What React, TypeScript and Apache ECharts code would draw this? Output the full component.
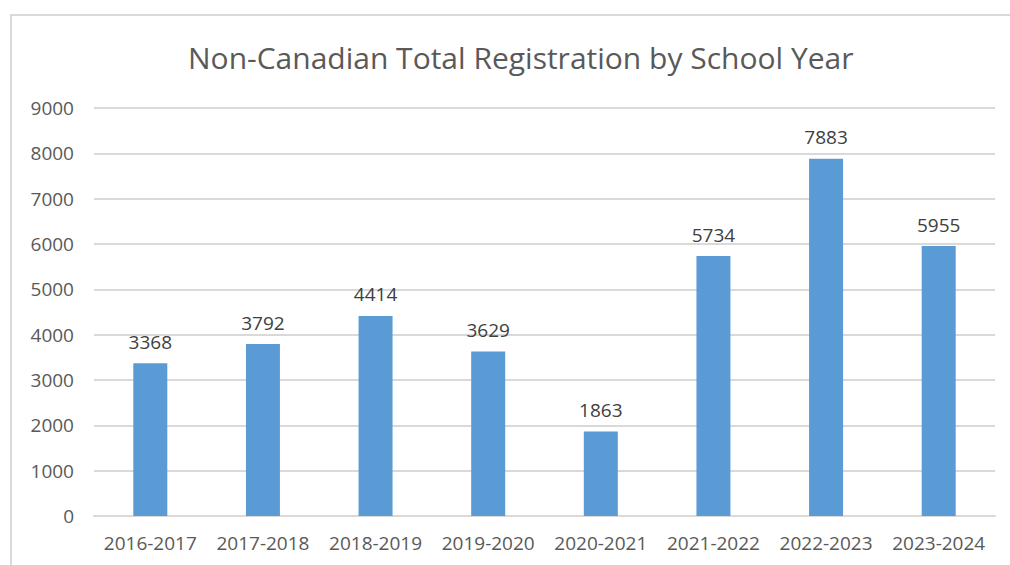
import React, { useEffect, useRef } from "react";
import * as echarts from "echarts";

const categories = ["2016-2017", "2017-2018", "2018-2019", "2019-2020", "2020-2021", "2021-2022", "2022-2023", "2023-2024"];
const registrations = [3368, 3792, 4414, 3629, 1863, 5734, 7883, 5955];
const titleText = "Non-Canadian Total Registration by School Year";

export default function App() {
  const ref = useRef<HTMLDivElement>(null);
  useEffect(() => {
    const chart = echarts.init(ref.current!, null, { renderer: "svg" });
    chart.setOption({
      animation: false,
      backgroundColor: "#ffffff",
      textStyle: { fontFamily: "Open Sans" },
      title: {
        text: titleText,
        left: 183,
        top: 37,
        textStyle: { fontSize: 30, fontWeight: "normal", color: "#595959", fontFamily: "Open Sans" },
      },
      graphic: [
        {
          type: "rect",
          shape: { x: 11, y: 15, width: 1100, height: 700 },
          style: { fill: "none", stroke: "#d9d9d9", lineWidth: 2 },
          silent: true,
        },
      ],
      grid: { left: 94, right: 15, top: 108, bottom: 49, containLabel: false },
      xAxis: {
        type: "category",
        data: categories,
        axisLine: { lineStyle: { color: "#d9d9d9", width: 2 } },
        axisTick: { show: false },
        axisLabel: { interval: 0, hideOverlap: false, color: "#595959", fontSize: 19, margin: 17, fontFamily: "Open Sans" },
      },
      yAxis: {
        type: "value",
        min: 0,
        max: 9000,
        interval: 1000,
        axisLine: { show: false },
        axisTick: { show: false },
        splitLine: { lineStyle: { color: "#d9d9d9", width: 2 } },
        axisLabel: { color: "#595959", fontSize: 19, margin: 20, fontFamily: "Open Sans", formatter: (v: number) => String(v) },
      },
      series: [
        {
          type: "bar",
          data: registrations,
          barWidth: 34,
          itemStyle: { color: "#5b9bd5" },
          label: { show: true, position: "top", distance: 12, color: "#404040", fontSize: 19, fontFamily: "Open Sans" },
        },
      ],
    });
    return () => chart.dispose();
  }, []);
  return <div ref={ref} style={{ position: "fixed", left: 0, top: 0, width: 1010, height: 565 }} />;
}
